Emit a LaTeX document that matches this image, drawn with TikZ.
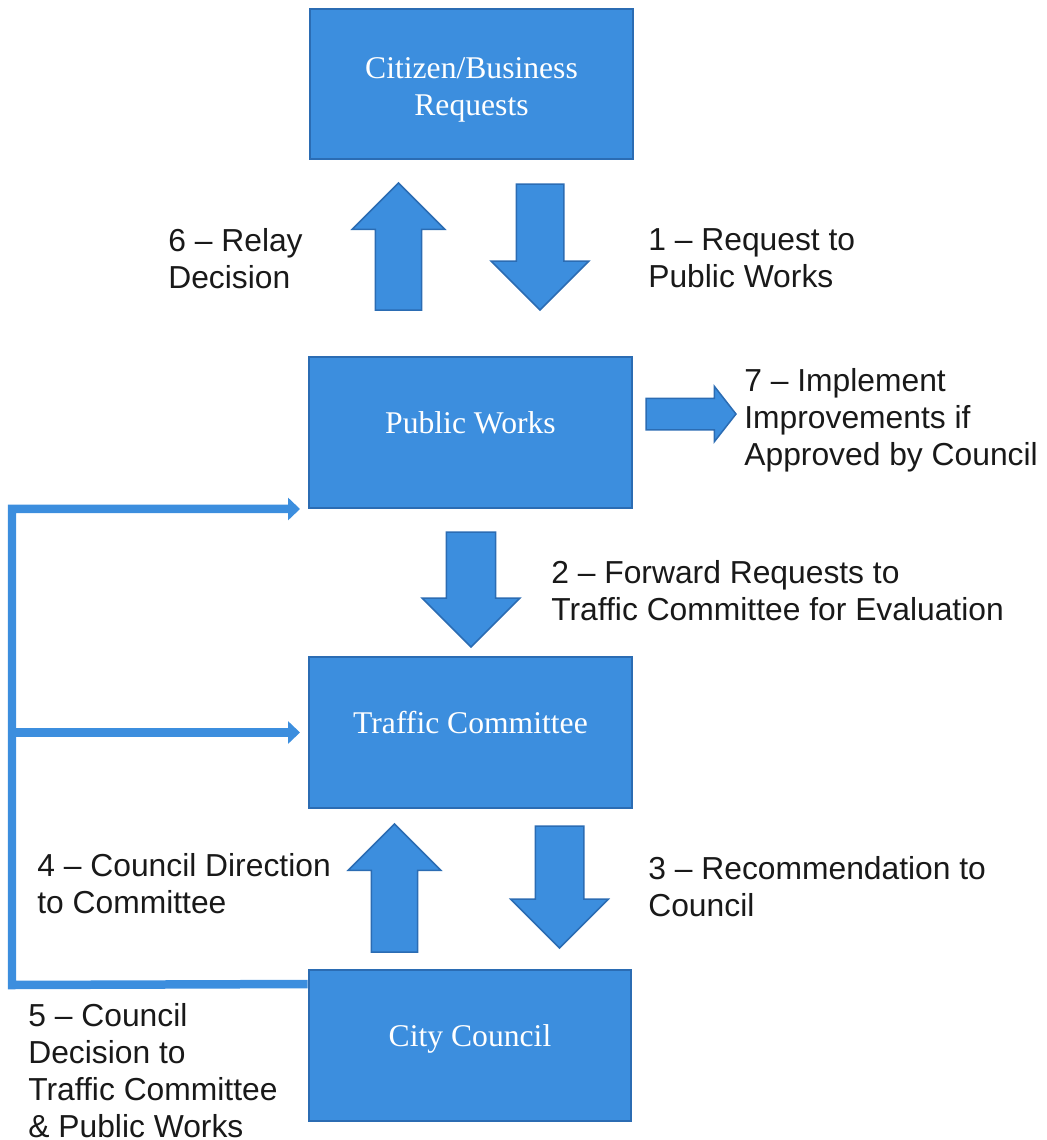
\documentclass[tikz,border=0pt]{standalone}
\usepackage{fontspec}
\setmainfont{Liberation Serif}
\setsansfont{Liberation Sans}
\usetikzlibrary{arrows.meta,shapes.arrows}

\definecolor{boxblue}{HTML}{3C8EDE}
\definecolor{edgeblue}{HTML}{2B6CB3}

\tikzset{
  box/.style={draw=edgeblue, fill=boxblue, line width=0.04cm, minimum width=6.46cm, minimum height=3.02cm,
    inner sep=0pt, align=center, text=white, font=\fontsize{18}{21}\selectfont},
  oneline/.style={text depth=0.4cm},
  bigarrow/.style={single arrow, draw=edgeblue, fill=boxblue, line width=0.03cm, anchor=tail,
    single arrow head indent=0pt, outer sep=0pt},
  link/.style={draw=boxblue, line width=0.17cm, -{Triangle[length=0.24cm,width=0.44cm]}},
  note/.style={anchor=north west, inner sep=0pt, align=left, font=\sffamily\fontsize{18.1}{21}\selectfont, text=black!90}
}

\begin{document}
\begin{tikzpicture}[x=0.02cm, y=-0.02cm]
        \useasboundingbox (0,0) rectangle (1047,1140);
        % boxes
        \node[box] (citizen) at (471.5,84) {\rule{0pt}{0.64cm}Citizen/Business\\Requests};
        \node[box, oneline] (works) at (470.5,432.5) {Public Works};
        \node[box, oneline] (committee) at (470.5,732.5) {Traffic Committee};
        \node[box, oneline] (council) at (470,1045.5) {City Council};
        % block arrows
        \node[bigarrow, shape border rotate=90, minimum height=2.54cm, minimum width=1.82cm, inner sep=0.45cm,
          single arrow head extend=0.46cm] (relayarrow) at (398.5,310) {};
        \node[bigarrow, shape border rotate=270, minimum height=2.52cm, minimum width=1.92cm, inner sep=0.46cm,
          single arrow head extend=0.5cm] (requestarrow) at (540,184) {};
        \node[bigarrow, minimum height=1.8cm, minimum width=1.08cm, inner sep=0.3cm,
          single arrow head extend=0.24cm, single arrow tip angle=104] (implementarrow) at (646,414) {};
        \node[bigarrow, shape border rotate=270, minimum height=2.3cm, minimum width=1.92cm, inner sep=0.48cm,
          single arrow head extend=0.48cm] (forwardarrow) at (471,532) {};
        \node[bigarrow, shape border rotate=90, minimum height=2.56cm, minimum width=1.82cm, inner sep=0.45cm,
          single arrow head extend=0.46cm] (directionarrow) at (394.5,952) {};
        \node[bigarrow, shape border rotate=270, minimum height=2.44cm, minimum width=1.92cm, inner sep=0.47cm,
          single arrow head extend=0.49cm] (recommendarrow) at (559.5,826) {};
        % council decision line
        \coordinate (spine) at (12,985);
        \draw[link] ([yshift=-0.3cm]council.north west) -- (spine) |- ([xshift=-0.16cm]works.south west);
        \draw[link] (spine |- committee.west) -- ([xshift=-0.16cm]committee.west);
        % labels
        \node[note] (relay) at (168,228) {6 – Relay\\Decision};
        \node[note] (request) at (648,228) {1 – Request to\\Public Works};
        \node[note] (implement) at (744,368) {7 – Implement\\Improvements if\\Approved by Council};
        \node[note] (forward) at (551,560) {2 – Forward Requests to\\Traffic Committee for Evaluation};
        \node[note] (direction) at (37,853) {4 – Council Direction\\to Committee};
        \node[note] (recommend) at (648,856) {3 – Recommendation to\\Council};
        \node[note] (decision) at (28,1003) {5 – Council\\Decision to\\Traffic Committee\\\& Public Works};
    \end{tikzpicture}
\end{document}
